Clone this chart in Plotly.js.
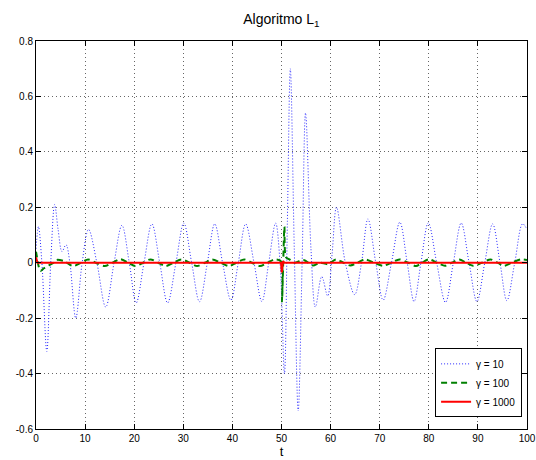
<!DOCTYPE html>
<html>
<head>
<meta charset="utf-8">
<script src="https://cdn.plot.ly/plotly-3.0.1.min.js"></script>
<style>html,body{margin:0;padding:0;background:#fff;}#chart{width:536px;height:460px;}</style>
</head>
<body>
<div id="chart"></div>
<script>
// gamma = 10 (blue dotted)
const t10 = [0, 0.5, 1.2, 2.2, 3.0, 3.8, 4.5, 5.3, 6.1, 6.9, 8.1, 9.4, 10.7, 12.4, 14.2, 15.9, 17.5, 19.0, 20.4, 22.0, 23.6, 25.2, 26.8, 28.5, 30.1, 31.7, 33.3, 34.9, 36.4, 38.0, 39.7, 41.2, 42.7, 44.4, 46.0, 47.4, 48.8, 49.7, 50.6, 51.2, 51.8, 52.6, 53.4, 54.2, 54.9, 56.0, 56.9, 58.2, 59.4, 60.3, 61.2, 63.0, 64.9, 66.3, 67.6, 69.2, 70.7, 72.4, 74.1, 75.6, 77.0, 78.4, 79.9, 81.6, 83.4, 85.0, 86.6, 88.2, 89.8, 91.4, 93.0, 94.5, 95.9, 97.5, 99.1, 100];
const y10 = [0.05, 0.13, 0.0, -0.32, 0.0, 0.21, 0.12, 0.04, 0.065, 0.0, -0.20, 0.0, 0.12, 0.0, -0.16, 0.0, 0.135, 0.0, -0.145, 0.0, 0.14, 0.0, -0.145, 0.0, 0.143, 0.0, -0.141, 0.0, 0.14, 0.0, -0.135, 0.0, 0.14, 0.0, -0.14, 0.0, 0.143, 0.0, -0.40, 0.15, 0.70, 0.05, -0.535, 0.0, 0.54, 0.05, -0.16, -0.05, -0.12, 0.03, 0.20, 0.0, -0.115, 0.0, 0.158, 0.0, -0.135, 0.0, 0.146, 0.0, -0.14, 0.0, 0.144, 0.0, -0.143, 0.0, 0.143, 0.0, -0.14, 0.0, 0.14, 0.0, -0.137, 0.0, 0.14, 0.12];

// gamma = 100 (green dashed)
const t100 = [0, 0.2, 0.5, 0.9, 1.6, 2.6, 3.6, 4.2, 5.8, 7.5, 9.2, 10.6, 12.2, 14.0, 15.6, 17.2, 18.8, 20.2, 21.8, 23.3, 24.9, 26.4, 28.0, 29.6, 31.3, 32.8, 34.4, 35.9, 37.6, 39.3, 40.8, 42.4, 44.0, 45.6, 47.2, 48.6, 49.9, 50.1, 50.35, 50.6, 50.9, 51.6, 52.6, 54.5, 56.4, 57.8, 59.5, 61.1, 62.6, 64.0, 65.5, 67.0, 68.8, 70.7, 72.4, 74.0, 75.8, 77.4, 78.6, 80.0, 81.7, 83.3, 84.7, 86.2, 87.6, 89.0, 90.8, 92.6, 94.0, 95.3, 96.9, 98.8, 100];
const y100 = [0.04, 0.02, -0.01, -0.03, -0.02, -0.01, 0.0, 0.01, 0.005, -0.012, 0.0, 0.012, 0.0, -0.012, 0.0, 0.013, 0.0, -0.012, 0.0, 0.012, 0.0, -0.012, 0.0, 0.012, 0.0, -0.012, 0.0, 0.012, 0.0, -0.012, 0.0, 0.012, 0.0, -0.012, 0.0, 0.012, 0.005, -0.14, 0.0, 0.13, 0.02, 0.012, 0.0, 0.01, -0.01, 0.0, -0.005, 0.012, 0.0, -0.01, 0.0, 0.012, 0.0, -0.011, 0.0, 0.012, 0.0, -0.012, 0.0, 0.012, 0.0, -0.011, 0.0, 0.012, 0.0, -0.011, 0.0, 0.012, 0.0, -0.011, 0.0, 0.012, 0.01];

// gamma = 1000 (red solid)
const t1000 = [0, 0.3, 0.6, 49.9, 50.05, 50.3, 50.6, 100];
const y1000 = [0.02, 0.0, 0.0, 0.0, -0.035, 0.005, 0.0, 0.0];

const legendNames = ['\u03b3 = 10', '\u03b3 = 100', '\u03b3 = 1000'];
const xTicks = [0, 10, 20, 30, 40, 50, 60, 70, 80, 90, 100];
const yTicks = [-0.6, -0.4, -0.2, 0, 0.2, 0.4, 0.6, 0.8];
const yTickText = ['-0.6', '-0.4', '-0.2', '0', '0.2', '0.4', '0.6', '0.8'];

const FONT = 'Liberation Sans, Arial, Helvetica, sans-serif';

const traces = [
  {x: t10, y: y10, name: legendNames[0], type: 'scatter', mode: 'lines',
   line: {color: 'rgb(40,40,255)', width: 1, dash: '1px,2px', shape: 'spline', smoothing: 1}},
  {x: t100, y: y100, name: legendNames[1], type: 'scatter', mode: 'lines',
   line: {color: 'rgb(0,128,0)', width: 2, dash: '6px,4px', shape: 'spline', smoothing: 0.8}},
  {x: t1000, y: y1000, name: legendNames[2], type: 'scatter', mode: 'lines',
   line: {color: 'rgb(255,0,0)', width: 2}}
];

const axisCommon = {
  showline: true, linecolor: '#000', linewidth: 1, mirror: 'ticks',
  ticks: 'inside', ticklen: 5, tickcolor: '#000',
  showgrid: true, gridcolor: 'rgba(0,0,0,0.6)', griddash: '1px,3px', gridwidth: 1,
  zeroline: false, tickfont: {family: FONT, size: 10, color: '#000'}
};

const layout = {
  width: 536, height: 460,
  margin: {l: 36, r: 9, t: 41, b: 31, pad: 0},
  paper_bgcolor: '#fff', plot_bgcolor: '#fff',
  font: {family: FONT, color: '#000'},
  title: {text: 'Algoritmo L<sub>1</sub>', font: {family: FONT, size: 14, color: '#000'},
          x: 0.525, xanchor: 'center', y: 0.97, yanchor: 'top'},
  xaxis: Object.assign({}, axisCommon, {
    range: [0, 100], tickvals: xTicks,
    title: {text: 't', font: {family: FONT, size: 13, color: '#000'}, standoff: 2}
  }),
  yaxis: Object.assign({}, axisCommon, {
    range: [-0.6, 0.8], tickvals: yTicks, ticktext: yTickText
  }),
  showlegend: true,
  legend: {x: 0.99, xanchor: 'right', y: 0.03, yanchor: 'bottom',
           bgcolor: '#fff', bordercolor: '#000', borderwidth: 1,
           font: {family: FONT, size: 10, color: '#000'}, tracegroupgap: 0,
           itemwidth: 30}
};

Plotly.newPlot('chart', traces, layout, {displayModeBar: false, staticPlot: true});
</script>
</body>
</html>
